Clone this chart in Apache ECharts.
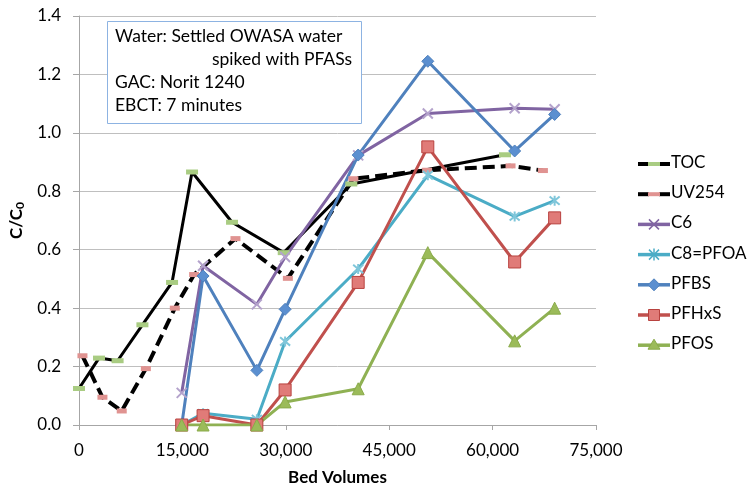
<!DOCTYPE html>
<html>
<head>
<meta charset="utf-8">
<script src="https://cdn.jsdelivr.net/npm/echarts@6/dist/echarts.min.js"></script>
<style>
  html, body { margin: 0; padding: 0; background: #fff; }
  #chart { width: 748px; height: 491px; }
</style>
</head>
<body>
<div id="chart"></div>
<script>
// Bed volumes (x) and C/C0 (y) for each measured quantity
const tocBV   = [0, 2900, 5600, 9200, 13500, 16400, 22200, 29700, 39500, 61800];
const tocVals = [0.125, 0.229, 0.220, 0.343, 0.488, 0.866, 0.694, 0.590, 0.825, 0.925];

const uvBV   = [500, 3400, 6200, 9700, 13900, 16700, 22700, 30300, 39800, 50500, 62600, 67300];
const uvVals = [0.237, 0.095, 0.048, 0.193, 0.400, 0.515, 0.638, 0.502, 0.843, 0.872, 0.887, 0.871];

const pfasBV = [14900, 18000, 25800, 29900, 40500, 50600, 63200, 69000];
const c6Vals    = [0.110, 0.545, 0.413, 0.575, 0.923, 1.066, 1.084, 1.081];
const pfoaVals  = [0.000, 0.040, 0.020, 0.286, 0.534, 0.855, 0.714, 0.768];
const pfbsVals  = [0.000, 0.510, 0.187, 0.396, 0.924, 1.245, 0.938, 1.063];
const pfhxsVals = [0.000, 0.032, 0.000, 0.120, 0.488, 0.952, 0.558, 0.709];
const pfosVals  = [0.000, 0.000, 0.000, 0.079, 0.124, 0.590, 0.288, 0.400];

const seriesNames = ['TOC', 'UV254', 'C6', 'C8=PFOA', 'PFBS', 'PFHxS', 'PFOS'];
const xTicks = { min: 0, max: 75000, interval: 15000 };
const yTicks = { min: 0, max: 1.4, interval: 0.2 };

const infoLines = ['Water: Settled OWASA water', 'spiked with PFASs', 'GAC: Norit 1240', 'EBCT: 7 minutes'];

const FONT = 'Lato';

// colours: [line, marker fill, marker stroke]
const palette = {
  'TOC':     ['#000000', '#a9cc82', '#a9cc82'],
  'UV254':   ['#000000', '#e09391', '#e09391'],
  'C6':      ['#8064a2', 'rgba(0,0,0,0)', '#b4a3cc'],
  'C8=PFOA': ['#4bacc6', 'rgba(0,0,0,0)', '#7fc6da'],
  'PFBS':    ['#4f81bd', '#5b8fd0', '#4f81bd'],
  'PFHxS':   ['#c0504d', '#e07b78', '#b8423f'],
  'PFOS':    ['#8fb153', '#9bbb59', '#8aab4a']
};

function pairs(xs, ys) { return xs.map((x, i) => [x, ys[i]]); }

const crossPath = 'path://M0,0L10,10M10,0L0,10';
const starPath  = 'path://M0,0L10,10M10,0L0,10M5,-1L5,11';

function pfasSeries(name, vals, symbol, size, borderWidth) {
  const c = palette[name];
  return {
    name: name,
    type: 'line',
    data: pairs(pfasBV, vals),
    symbol: symbol,
    symbolSize: size,
    showAllSymbol: true,
    lineStyle: { color: c[0], width: 3 },
    itemStyle: { color: c[1], borderColor: c[2], borderWidth: borderWidth }
  };
}

// Legend drawn as graphics: line sample with its marker, then the series name
function legendGraphics() {
  const x0 = 638, x1 = 670, top = 164, step = 30.2;
  const cx = (x0 + x1) / 2;
  const out = [];
  const seg = (ax, ay, bx, by, stroke, w) =>
    ({ type: 'line', shape: { x1: ax, y1: ay, x2: bx, y2: by }, style: { stroke: stroke, lineWidth: w } });
  seriesNames.forEach((name, i) => {
    const y = top + i * step;
    const c = palette[name];
    if (name === 'UV254') {
      out.push(seg(x0, y, cx - 5, y, c[0], 4));
      out.push(seg(cx + 5, y, x1, y, c[0], 4));
    } else {
      out.push(seg(x0, y, x1, y, c[0], name === 'TOC' ? 4 : 3.5));
    }
    if (name === 'TOC' || name === 'UV254') {
      out.push({ type: 'rect', shape: { x: cx - 6, y: y - 2, width: 12, height: 4 }, style: { fill: c[1] } });
    } else if (name === 'C6' || name === 'C8=PFOA') {
      out.push(seg(cx - 5, y - 5, cx + 5, y + 5, c[0], 1.5));
      out.push(seg(cx + 5, y - 5, cx - 5, y + 5, c[0], 1.5));
      if (name === 'C8=PFOA') out.push(seg(cx, y - 6, cx, y + 6, c[0], 1.5));
    } else if (name === 'PFBS') {
      out.push({ type: 'polygon', shape: { points: [[cx, y - 6], [cx + 6, y], [cx, y + 6], [cx - 6, y]] }, style: { fill: c[1], stroke: c[2], lineWidth: 1 } });
    } else if (name === 'PFHxS') {
      out.push({ type: 'rect', shape: { x: cx - 5.5, y: y - 5.5, width: 11, height: 11 }, style: { fill: c[1], stroke: c[2], lineWidth: 1 } });
    } else {
      out.push({ type: 'polygon', shape: { points: [[cx, y - 6], [cx + 6, y + 4], [cx - 6, y + 4]] }, style: { fill: c[1], stroke: c[2], lineWidth: 1 } });
    }
    out.push({ type: 'text', x: x1 + 1, y: y - 10, style: { text: name, font: '17px ' + FONT, fill: '#000' } });
  });
  return out.map(g => Object.assign({ z: 100, silent: true }, g));
}

const chart = echarts.init(document.getElementById('chart'), null, { renderer: 'canvas' });

chart.setOption({
  animation: false,
  backgroundColor: '#ffffff',
  textStyle: { fontFamily: FONT },
  grid: { left: 79, right: 152, top: 16, bottom: 58, containLabel: false },
  xAxis: {
    type: 'value',
    min: xTicks.min, max: xTicks.max, interval: xTicks.interval,
    name: 'Bed Volumes',
    nameLocation: 'middle',
    nameGap: 44,
    nameTextStyle: { fontFamily: FONT, fontSize: 17, fontWeight: 'bold', color: '#000' },
    axisLine: { show: true, lineStyle: { color: '#a6a6a6', width: 1 } },
    axisTick: { show: true, length: 5, lineStyle: { color: '#a6a6a6' } },
    axisLabel: {
      color: '#000', fontSize: 17, fontFamily: FONT, margin: 17,
      formatter: v => v.toLocaleString('en-US')
    },
    splitLine: { show: false }
  },
  yAxis: {
    type: 'value',
    min: yTicks.min, max: yTicks.max, interval: yTicks.interval,
    name: '{a|C/C}{b|0}',
    nameLocation: 'middle',
    nameGap: 44,
    nameRotate: 90,
    nameTextStyle: {
      rich: {
        a: { fontFamily: FONT, fontSize: 17, fontWeight: 'bold', color: '#000' },
        b: { fontFamily: FONT, fontSize: 12, fontWeight: 'bold', color: '#000', verticalAlign: 'bottom', padding: [7, 0, 0, 0] }
      }
    },
    axisLine: { show: true, lineStyle: { color: '#a6a6a6', width: 1 } },
    axisTick: { show: true, length: 6, inside: false, lineStyle: { color: '#a6a6a6' } },
    axisLabel: {
      color: '#000', fontSize: 17, fontFamily: FONT, margin: 18,
      formatter: v => v.toFixed(1)
    },
    splitLine: { show: true, lineStyle: { color: '#bfbfbf', width: 1 } }
  },
  graphic: [
    {
      type: 'rect',
      left: 107, top: 21,
      shape: { width: 254, height: 102 },
      style: { fill: '#ffffff', stroke: '#8db3e2', lineWidth: 1 },
      z: 100
    },
    {
      type: 'text', left: 115, top: 27, z: 101,
      style: { text: infoLines[0], font: '17.5px ' + FONT, fill: '#000' }
    },
    {
      type: 'text', right: 748 - 352, top: 50, z: 101,
      style: { text: infoLines[1], font: '17.5px ' + FONT, fill: '#000' }
    },
    {
      type: 'text', left: 115, top: 73, z: 101,
      style: { text: infoLines[2], font: '17.5px ' + FONT, fill: '#000' }
    },
    {
      type: 'text', left: 115, top: 96, z: 101,
      style: { text: infoLines[3], font: '17.5px ' + FONT, fill: '#000' }
    }
  ].concat(legendGraphics()),
  series: [
    {
      name: 'TOC',
      type: 'line',
      data: pairs(tocBV, tocVals),
      symbol: 'rect',
      symbolSize: [12, 5],
      showAllSymbol: true,
      lineStyle: { color: palette['TOC'][0], width: 3 },
      itemStyle: { color: palette['TOC'][1] }
    },
    {
      name: 'UV254',
      type: 'line',
      data: pairs(uvBV, uvVals),
      symbol: 'rect',
      symbolSize: [10, 5],
      showAllSymbol: true,
      lineStyle: { color: palette['UV254'][0], width: 4, type: [12, 6] },
      itemStyle: { color: palette['UV254'][1] }
    },
    pfasSeries('C6', c6Vals, crossPath, 10, 2),
    pfasSeries('C8=PFOA', pfoaVals, starPath, 10, 2),
    pfasSeries('PFBS', pfbsVals, 'diamond', 12, 1),
    pfasSeries('PFHxS', pfhxsVals, 'rect', 12, 1),
    pfasSeries('PFOS', pfosVals, 'triangle', 12, 1)
  ]
});
</script>
</body>
</html>
